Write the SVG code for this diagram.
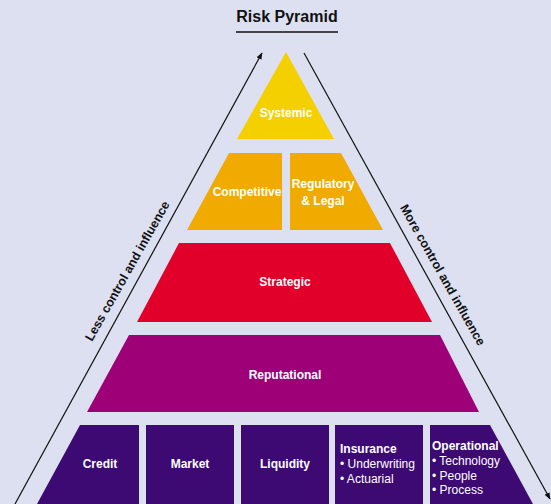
<svg xmlns="http://www.w3.org/2000/svg" width="551" height="504" viewBox="0 0 551 504">
  <defs>
    <marker id="arrow" viewBox="0 0 10 10" refX="9" refY="5" markerWidth="7" markerHeight="7" orient="auto-start-reverse" markerUnits="userSpaceOnUse">
      <path d="M0,1 L10,5 L0,9 Z" fill="#111"/>
    </marker>
    <style>
      text { font-family: "Liberation Sans", Arial, sans-serif; }
      .lbl { fill: #ffffff; font-size: 12px; font-weight: bold; text-anchor: middle; }
      .lst { fill: #ffffff; font-size: 12px; }
      .hd { fill: #ffffff; font-size: 12px; font-weight: bold; }
      .side { fill: #111; font-size: 12.5px; font-weight: bold; text-anchor: middle; }
      .edge { stroke: #111; stroke-width: 1.2; fill: none; }
    </style>
  </defs>
  <rect width="551" height="504" fill="#dde0f0"/>

  <!-- title -->
  <g id="title">
    <text x="287" y="22" font-size="16" font-weight="bold" fill="#111" text-anchor="middle">Risk Pyramid</text>
    <line x1="236" y1="32" x2="338" y2="32" stroke="#111" stroke-width="1.5"/>
  </g>

  <!-- side arrows -->
  <g id="connectors">
    <line class="edge" x1="15" y1="504" x2="262" y2="53" marker-end="url(#arrow)"/>
    <line class="edge" x1="304" y1="53" x2="550" y2="499" marker-end="url(#arrow)"/>
  </g>
  <g id="side-left">
    <text class="side" transform="translate(131,273) rotate(-60.5)">Less control and influence</text>
  </g>
  <g id="side-right">
    <text class="side" transform="translate(439,277) rotate(60.5)">More control and influence</text>
  </g>

  <!-- tier 1 -->
  <g id="systemic">
    <polygon points="286,52 237,139 334,139" fill="#f5d000"/>
    <text class="lbl" x="286" y="117">Systemic</text>
  </g>

  <!-- tier 2 -->
  <g id="competitive">
    <polygon points="229,153 282,153 282,230 187,230" fill="#f0aa00"/>
    <text class="lbl" x="247" y="196">Competitive</text>
  </g>
  <g id="regulatory">
    <polygon points="290,153 341,153 383,230 290,230" fill="#f0aa00"/>
    <text class="lbl" x="323" y="188">Regulatory</text>
    <text class="lbl" x="323" y="205">&amp; Legal</text>
  </g>

  <!-- tier 3 -->
  <g id="strategic">
    <polygon points="179,243 390,243 432,322 137,322" fill="#e1002a"/>
    <text class="lbl" x="285" y="286">Strategic</text>
  </g>

  <!-- tier 4 -->
  <g id="reputational">
    <polygon points="129,335 440,335 479,412 87,412" fill="#9e0078"/>
    <text class="lbl" x="285" y="379">Reputational</text>
  </g>

  <!-- base tier -->
  <g id="credit">
    <polygon points="80,425 139,425 139,504 37,504" fill="#3d0a73"/>
    <text class="lbl" x="100" y="468">Credit</text>
  </g>
  <g id="market">
    <rect x="146" y="425" width="88" height="79" fill="#3d0a73"/>
    <text class="lbl" x="190" y="468">Market</text>
  </g>
  <g id="liquidity">
    <rect x="241" y="425" width="88" height="79" fill="#3d0a73"/>
    <text class="lbl" x="285" y="468">Liquidity</text>
  </g>
  <g id="insurance">
    <rect x="335" y="425" width="88" height="79" fill="#3d0a73"/>
    <text class="hd" x="340" y="453">Insurance</text>
    <text class="lst" x="340" y="468">• Underwriting</text>
    <text class="lst" x="340" y="483">• Actuarial</text>
  </g>
  <g id="operational">
    <polygon points="430,425 490,425 533,504 430,504" fill="#3d0a73"/>
    <text class="hd" x="432" y="450">Operational</text>
    <text class="lst" x="432" y="465">• Technology</text>
    <text class="lst" x="432" y="480">• People</text>
    <text class="lst" x="432" y="494">• Process</text>
  </g>
</svg>
